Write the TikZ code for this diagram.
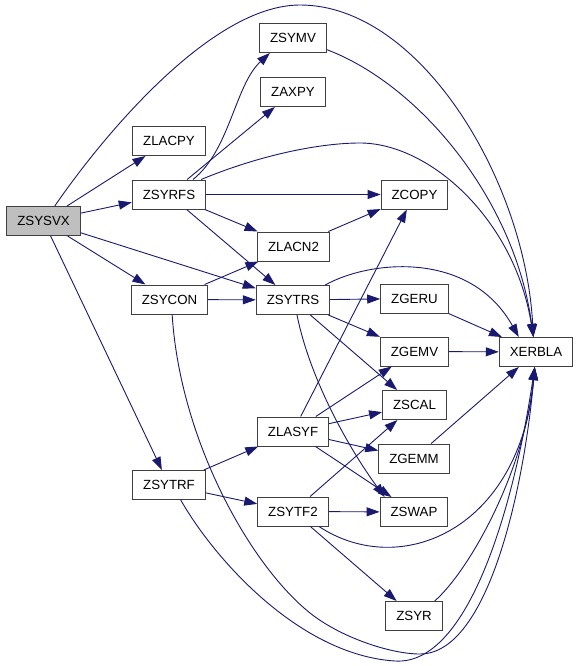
\documentclass[tikz,border=0pt]{standalone}
\usepackage{fontspec}
\setmainfont{Liberation Sans}
\usepackage{xcolor}
\usetikzlibrary{arrows.meta}

\definecolor{callblue}{RGB}{25,25,112}

\begin{document}
\begin{tikzpicture}[x=1pt, y=-1pt,
    func/.style={draw=black!75, line width=1pt, fill=white, minimum height=29pt, inner xsep=10.5pt, inner ysep=0pt, font=\fontsize{13.3}{15}\selectfont},
    root/.style={func, fill=black!25},
    call/.style={-{Triangle[length=13pt, width=9pt]}, line width=0.9pt, callblue}
]
\useasboundingbox (0,0) rectangle (579,666);

% Driver
\node[root] (zsysvx) at (43.5,221) {ZSYSVX};

% First level
\node[func] (zlacpy) at (169,141) {ZLACPY};
\node[func] (zsyrfs) at (169,194.5) {ZSYRFS};
\node[func] (zsycon) at (169.5,299.5) {ZSYCON};
\node[func] (zsytrf) at (169,485) {ZSYTRF};

% Second level
\node[func] (zsymv) at (293,38) {ZSYMV};
\node[func] (zaxpy) at (293,92) {ZAXPY};
\node[func] (zlacn2) at (293.5,246.5) {ZLACN2};
\node[func] (zsytrs) at (293,300) {ZSYTRS};
\node[func] (zlasyf) at (293,431.5) {ZLASYF};
\node[func] (zsytf2) at (293,511.5) {ZSYTF2};

% BLAS level
\node[func] (zcopy) at (414.5,194.5) {ZCOPY};
\node[func] (zgeru) at (414.5,298.5) {ZGERU};
\node[func] (zgemv) at (414.5,351.5) {ZGEMV};
\node[func] (zscal) at (414.5,405) {ZSCAL};
\node[func] (zgemm) at (414,458.5) {ZGEMM};
\node[func] (zswap) at (414,512) {ZSWAP};
\node[func] (zsyr) at (414,616) {ZSYR};

% Error handler
\node[func] (xerbla) at (536,352) {XERBLA};

% ZSYSVX calls
\draw[call] (zsysvx) -- (zlacpy);
\draw[call] (zsysvx) -- (zsyrfs);
\draw[call] (zsysvx) -- (zsycon);
\draw[call] (zsysvx) -- (zsytrs);
\draw[call] (zsysvx) -- (zsytrf);
\draw[call] (zsysvx.53) .. controls (100,140) and (210,5) .. (300,5) .. controls (420,5) and (525,180) .. (xerbla.100);

% ZSYRFS calls
\draw[call] (zsyrfs.32) .. controls (230,150) and (235,85) .. (zsymv.213);
\draw[call] (zsyrfs) -- (zaxpy);
\draw[call] (zsyrfs) -- (zcopy);
\draw[call] (zsyrfs) -- (zlacn2);
\draw[call] (zsyrfs) -- (zsytrs);
\draw[call] (zsyrfs.25) .. controls (260,155) and (320,143) .. (360,143) .. controls (430,143) and (515,220) .. (xerbla.100);
\draw[call] (zsymv.-19) .. controls (420,85) and (515,200) .. (xerbla.100);

% ZSYCON calls
\draw[call] (zsycon) -- (zlacn2);
\draw[call] (zsycon) -- (zsytrs);
\draw[call] (zsycon.-80) .. controls (180,440) and (250,565) .. (310,613) .. controls (340,637) and (390,654) .. (420,654) .. controls (490,654) and (525,480) .. (xerbla.265);
\draw[call] (zlacn2) -- (zcopy);

% ZSYTRS calls
\draw[call] (zsytrs) -- (zgeru);
\draw[call] (zsytrs) -- (zgemv);
\draw[call] (zsytrs) -- (zscal);
\draw[call] (zsytrs.-75) .. controls (310,380) and (350,450) .. (zswap.153);
\draw[call] (zsytrs.25) .. controls (370,260) and (470,250) .. (xerbla.139);

% ZSYTRF calls
\draw[call] (zsytrf) -- (zlasyf);
\draw[call] (zsytrf) -- (zsytf2);
\draw[call] (zsytrf.-52) .. controls (215,560) and (300,655) .. (395,661) .. controls (470,666) and (515,500) .. (xerbla.265);

% ZLASYF calls
\draw[call] (zlasyf) -- (zcopy);
\draw[call] (zlasyf) -- (zgemv);
\draw[call] (zlasyf) -- (zscal);
\draw[call] (zlasyf) -- (zgemm);
\draw[call] (zlasyf) -- (zswap);

% ZSYTF2 calls
\draw[call] (zsytf2) -- (zscal);
\draw[call] (zsytf2) -- (zswap);
\draw[call] (zsytf2) -- (zsyr);
\draw[call] (zsytf2.-30) .. controls (400,580) and (520,530) .. (xerbla.265);

% BLAS to XERBLA
\draw[call] (zgeru) -- (xerbla);
\draw[call] (zgemv) -- (xerbla);
\draw[call] (zgemm) -- (xerbla);
\draw[call] (zsyr.36) .. controls (470,570) and (525,470) .. (xerbla.265);

\end{tikzpicture}
\end{document}
